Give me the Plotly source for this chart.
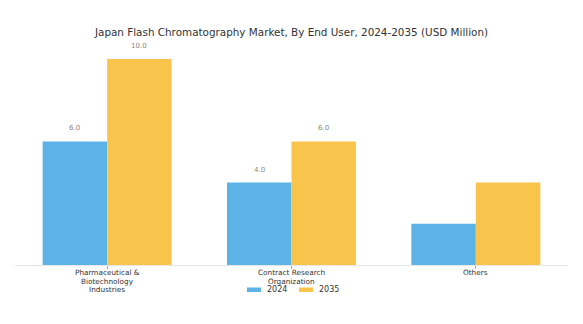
import plotly.graph_objects as go

categories = ["Pharmaceutical &<br>Biotechnology<br>Industries", "Contract Research<br>Organization", "Others"]
series_names = ["2024", "2035"]
values_2024 = [6.0, 4.0, 2.0]
values_2035 = [10.0, 6.0, 4.0]
labels_2024 = ["6.0", "4.0", ""]
labels_2035 = ["10.0", "6.0", ""]
colors = ["#5DB3E6", "#F9C44B"]

FONT = "DejaVu Sans"
W, H = 583, 324
ML, MR, MT, MB = 15, 15, 50, 59
PW, PH = W - ML - MR, H - MT - MB

fig = go.Figure()
for name, vals, col in zip(series_names, (values_2024, values_2035), colors):
    fig.add_bar(x=list(range(len(categories))), y=vals, name=name, marker_color=col,
                marker_line_width=0, showlegend=False)

# value labels above bars
for i in range(len(categories)):
    for vals, labs, shift in ((values_2024, labels_2024, -0.175), (values_2035, labels_2035, 0.175)):
        if labs[i]:
            fig.add_annotation(x=i + shift, y=vals[i], text=labs[i], showarrow=False,
                               yshift=13, xref="x", yref="y",
                               font=dict(family=FONT, size=7, color="#888888"))

def px2x(px):
    return (px - ML) / PW

def px2y(py):
    return (H - MB - py) / PH

# category labels (one annotation per line for tight line spacing)
line_y = [272.7, 281.0, 289.3]
for i, cat in enumerate(categories):
    for j, line in enumerate(cat.split("<br>")):
        fig.add_annotation(x=i, xref="x", yref="paper", y=px2y(line_y[j]),
                           text=line, showarrow=False, xanchor="center", yanchor="middle",
                           font=dict(family=FONT, size=7.3, color="#333333"))

# manual legend
legend_pos = [(247, 261), (299, 313)]
for name, col, (x0, x1) in zip(series_names, colors, legend_pos):
    fig.add_shape(type="rect", xref="paper", yref="paper",
                  x0=px2x(x0), x1=px2x(x1), y0=px2y(292), y1=px2y(287.5),
                  fillcolor=col, line_width=0)
    fig.add_annotation(xref="paper", yref="paper", x=px2x(x1 + 4), y=px2y(289.5),
                       xanchor="left", yanchor="middle", text=name, showarrow=False,
                       font=dict(family=FONT, size=8, color="#333333"))

fig.update_layout(
    width=W, height=H,
    margin=dict(l=ML, r=MR, t=MT, b=MB, autoexpand=False),
    paper_bgcolor="white", plot_bgcolor="white",
    barmode="group", bargap=0.3, bargroupgap=0,
    title=dict(text="Japan Flash Chromatography Market, By End User, 2024-2035 (USD Million)",
               x=0.5, xanchor="center", y=0.9, yanchor="middle",
               font=dict(family=FONT, size=10.4, color="#333333")),
    font=dict(family=FONT, size=8, color="#333333"),
    xaxis=dict(showline=True, linecolor="#E6E6E6", linewidth=1, ticks="outside",
               ticklen=3, tickcolor="#AAAAAA", showticklabels=False,
               showgrid=False, tickmode="array", automargin=False,
               tickvals=list(range(len(categories))),
               range=[-0.5, 2.5]),
    yaxis=dict(visible=False, range=[0, 10.44], showgrid=False),
    showlegend=False,
)
fig.write_html("out.html")
